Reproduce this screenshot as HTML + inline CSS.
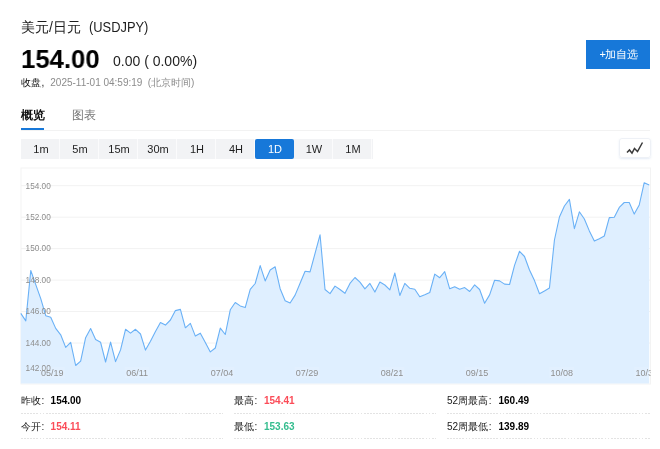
<!DOCTYPE html>
<html><head><meta charset="utf-8">
<style>
*{margin:0;padding:0;box-sizing:border-box}
html,body{width:660px;height:449px;background:#fff;overflow:hidden;-webkit-font-smoothing:antialiased;font-family:"Liberation Sans",sans-serif;color:#333}
.a{position:absolute;white-space:nowrap;will-change:transform}
#title{left:21px;top:18px;font-size:14px;color:#1e1e1e;line-height:18px}
#title .code{font-size:14px;margin-left:8px;display:inline-block;transform:scaleX(0.92);transform-origin:0 50%}
#price{left:21px;top:44px;font-size:26.4px;transform:scaleX(0.975);transform-origin:0 0;font-weight:bold;color:#000;line-height:30px}
#chg{left:113px;top:53px;font-size:14px;color:#1e1e1e;line-height:16px}
#time{left:21px;top:75.5px;font-size:10px;color:#111;line-height:13px}
#time span{color:#8c8c8c}
#btn{left:586px;top:40px;width:64px;height:29px;background:#1778d9;color:#fff;font-size:11px;line-height:29px;text-align:center;letter-spacing:-0.3px;padding-left:1px}
#tab1{left:21px;top:107px;font-size:11.5px;font-weight:bold;color:#111;line-height:16px}
#tab2{left:72px;top:107px;font-size:11.5px;color:#777;line-height:16px}
#uline{left:21px;top:128px;width:23px;height:2px;background:#1778d9}
#sep{left:21px;top:130px;width:629px;height:1px;background:#f2f2f2}
#bar{left:21px;top:139px;width:352px;height:20px;background:#f2f3f5;display:flex}
#bar div{position:relative;width:39px;height:20px;line-height:20px;text-align:center;font-size:11px;color:#1e1e1e;padding-left:1px}
#bar div:after{content:"";position:absolute;right:0;top:0;width:1px;height:20px;background:#fbfbfc}
#bar div.on:after{display:none}
#bar div.on{background:#1778d9;color:#fff;border-radius:2px}
#ico{left:619px;top:138px;width:32px;height:20px;border:1px solid #eef1f6;border-radius:3px;box-shadow:0 1px 2px rgba(180,200,230,0.35)}
#chart{left:21px;top:168px;width:630px;height:216px;border:1px solid #f3f3f3;border-bottom:none}
.row{position:absolute;will-change:transform;height:26px;background:repeating-linear-gradient(90deg,#e3e3e3 0 1.8px,transparent 1.8px 3.09px) left bottom/100% 1px no-repeat}
.k{position:absolute;left:0;top:7px;font-size:10px;line-height:12px;color:#1a1a1a}
.k i{font-style:normal;margin-left:0.6px}
.v{position:absolute;top:7px;font-size:10px;line-height:12px;font-weight:bold;color:#000}
.red{color:#fb4c58}
.grn{color:#35bd8f}
</style></head><body>
<div id="title" class="a">美元/日元<span class="code">(USDJPY)</span></div>
<div id="price" class="a">154.00</div>
<div id="chg" class="a">0.00 ( 0.00%)</div>
<div id="time" class="a">收盘<b style="font-weight:normal;margin-left:0.5px">,</b><span style="margin-left:6px">2025-11-01 04:59:19 <i style="font-style:normal;margin-left:2.5px">(北京时间)</i></span></div>
<div id="btn" class="a">+加自选</div>
<div id="tab1" class="a">概览</div>
<div id="tab2" class="a">图表</div>
<div id="uline" class="a"></div>
<div id="sep" class="a"></div>
<div id="bar" class="a"><div>1m</div><div>5m</div><div>15m</div><div>30m</div><div>1H</div><div>4H</div><div class="on">1D</div><div>1W</div><div>1M</div></div>
<div id="ico" class="a"><svg width="31" height="20" style="position:absolute;left:-1px;top:-1px"><polyline points="8,14.5 10.5,12 13,15.2 15.5,10.5 18.5,13.5 23.5,4.5" fill="none" stroke="#3a3a3a" stroke-width="1.5"/></svg></div>
<svg class="a" style="left:0;top:0" width="660" height="449">
<rect x="21" y="168" width="629.5" height="216" fill="none" stroke="#f3f3f3" stroke-width="1"/>
<line x1="21" x2="650" y1="185.7" y2="185.7" stroke="#f2f2f2" stroke-width="1"/><line x1="21" x2="650" y1="217.2" y2="217.2" stroke="#f2f2f2" stroke-width="1"/><line x1="21" x2="650" y1="248.6" y2="248.6" stroke="#f2f2f2" stroke-width="1"/><line x1="21" x2="650" y1="280.1" y2="280.1" stroke="#f2f2f2" stroke-width="1"/><line x1="21" x2="650" y1="311.5" y2="311.5" stroke="#f2f2f2" stroke-width="1"/><line x1="21" x2="650" y1="343.0" y2="343.0" stroke="#f2f2f2" stroke-width="1"/><line x1="21" x2="650" y1="374.5" y2="374.5" stroke="#f2f2f2" stroke-width="1"/>
<path d="M20.80,383.5 L20.80,313.40 L25.79,320.90 L30.77,270.50 L35.76,284.60 L40.75,298.60 L45.74,315.70 L50.72,317.20 L55.71,328.40 L60.70,334.80 L65.69,347.40 L70.67,342.40 L75.66,365.50 L80.65,361.10 L85.63,337.70 L90.62,328.60 L95.61,339.50 L100.60,342.30 L105.58,362.00 L110.57,342.10 L115.56,361.60 L120.55,349.90 L125.53,329.30 L130.52,333.10 L135.51,329.30 L140.50,334.00 L145.48,350.10 L150.47,341.20 L155.46,331.60 L160.44,322.60 L165.43,325.10 L170.42,320.00 L175.41,310.60 L180.39,309.40 L185.38,327.80 L190.37,323.40 L195.36,336.10 L200.34,333.20 L205.33,342.50 L210.32,351.90 L215.30,348.00 L220.29,328.10 L225.28,334.50 L230.27,309.80 L235.25,302.50 L240.24,305.90 L245.23,307.60 L250.22,289.30 L255.20,283.50 L260.19,265.60 L265.18,280.90 L270.17,270.00 L275.15,266.80 L280.14,288.70 L285.13,300.70 L290.11,303.00 L295.10,295.10 L300.09,283.20 L305.08,271.30 L310.06,271.90 L315.05,253.30 L320.04,234.80 L325.03,289.50 L330.01,293.60 L335.00,286.10 L339.99,289.50 L344.97,293.30 L349.96,283.40 L354.95,277.50 L359.94,282.10 L364.92,288.80 L369.91,283.40 L374.90,292.10 L379.89,282.10 L384.87,285.00 L389.86,289.80 L394.85,273.00 L399.83,295.50 L404.82,283.40 L409.81,288.30 L414.80,289.20 L419.78,296.80 L424.77,294.80 L429.76,292.50 L434.75,274.10 L439.73,277.70 L444.72,271.70 L449.71,288.80 L454.70,286.80 L459.68,289.20 L464.67,287.60 L469.66,291.50 L474.64,284.90 L479.63,289.50 L484.62,303.20 L489.61,294.90 L494.59,280.20 L499.58,280.90 L504.57,284.10 L509.56,284.50 L514.54,265.40 L519.53,251.30 L524.52,256.50 L529.50,270.00 L534.49,280.60 L539.48,293.80 L544.47,290.90 L549.45,288.00 L554.44,240.00 L559.43,217.00 L564.42,206.00 L569.40,199.40 L574.39,228.70 L579.38,211.80 L584.37,219.00 L589.35,230.90 L594.34,241.10 L599.33,238.70 L604.31,236.00 L609.30,217.60 L614.29,217.20 L619.28,207.40 L624.26,202.50 L629.25,202.50 L634.24,214.10 L639.23,205.00 L644.21,182.70 L649.20,185.00 L649.20,383.5 Z" fill="#dfefff"/>
<polyline points="20.80,313.40 25.79,320.90 30.77,270.50 35.76,284.60 40.75,298.60 45.74,315.70 50.72,317.20 55.71,328.40 60.70,334.80 65.69,347.40 70.67,342.40 75.66,365.50 80.65,361.10 85.63,337.70 90.62,328.60 95.61,339.50 100.60,342.30 105.58,362.00 110.57,342.10 115.56,361.60 120.55,349.90 125.53,329.30 130.52,333.10 135.51,329.30 140.50,334.00 145.48,350.10 150.47,341.20 155.46,331.60 160.44,322.60 165.43,325.10 170.42,320.00 175.41,310.60 180.39,309.40 185.38,327.80 190.37,323.40 195.36,336.10 200.34,333.20 205.33,342.50 210.32,351.90 215.30,348.00 220.29,328.10 225.28,334.50 230.27,309.80 235.25,302.50 240.24,305.90 245.23,307.60 250.22,289.30 255.20,283.50 260.19,265.60 265.18,280.90 270.17,270.00 275.15,266.80 280.14,288.70 285.13,300.70 290.11,303.00 295.10,295.10 300.09,283.20 305.08,271.30 310.06,271.90 315.05,253.30 320.04,234.80 325.03,289.50 330.01,293.60 335.00,286.10 339.99,289.50 344.97,293.30 349.96,283.40 354.95,277.50 359.94,282.10 364.92,288.80 369.91,283.40 374.90,292.10 379.89,282.10 384.87,285.00 389.86,289.80 394.85,273.00 399.83,295.50 404.82,283.40 409.81,288.30 414.80,289.20 419.78,296.80 424.77,294.80 429.76,292.50 434.75,274.10 439.73,277.70 444.72,271.70 449.71,288.80 454.70,286.80 459.68,289.20 464.67,287.60 469.66,291.50 474.64,284.90 479.63,289.50 484.62,303.20 489.61,294.90 494.59,280.20 499.58,280.90 504.57,284.10 509.56,284.50 514.54,265.40 519.53,251.30 524.52,256.50 529.50,270.00 534.49,280.60 539.48,293.80 544.47,290.90 549.45,288.00 554.44,240.00 559.43,217.00 564.42,206.00 569.40,199.40 574.39,228.70 579.38,211.80 584.37,219.00 589.35,230.90 594.34,241.10 599.33,238.70 604.31,236.00 609.30,217.60 614.29,217.20 619.28,207.40 624.26,202.50 629.25,202.50 634.24,214.10 639.23,205.00 644.21,182.70 649.20,185.00" fill="none" stroke="#6ab1f6" stroke-width="1.1" stroke-linejoin="round"/>
<g font-family="Liberation Sans" font-size="9.9" fill="#8e8e8e"><text x="25.6" y="188.5" textLength="25.2" lengthAdjust="spacingAndGlyphs">154.00</text><text x="25.6" y="220.0" textLength="25.2" lengthAdjust="spacingAndGlyphs">152.00</text><text x="25.6" y="251.4" textLength="25.2" lengthAdjust="spacingAndGlyphs">150.00</text><text x="25.6" y="282.9" textLength="25.2" lengthAdjust="spacingAndGlyphs">148.00</text><text x="25.6" y="314.3" textLength="25.2" lengthAdjust="spacingAndGlyphs">146.00</text><text x="25.6" y="345.8" textLength="25.2" lengthAdjust="spacingAndGlyphs">144.00</text><text x="25.6" y="370.7" textLength="25.2" lengthAdjust="spacingAndGlyphs">142.00</text></g>
<defs><clipPath id="cp"><rect x="0" y="0" width="650.6" height="449"/></clipPath></defs><g font-family="Liberation Sans" font-size="9" fill="#8e8e8e" clip-path="url(#cp)"><rect x="39.7" y="367" width="25" height="11" fill="#fff" fill-opacity="0.1"/><text x="52.2" y="376.1" text-anchor="middle">05/19</text><rect x="124.6" y="367" width="25" height="11" fill="#fff" fill-opacity="0.1"/><text x="137.1" y="376.1" text-anchor="middle">06/11</text><rect x="209.6" y="367" width="25" height="11" fill="#fff" fill-opacity="0.1"/><text x="222.1" y="376.1" text-anchor="middle">07/04</text><rect x="294.5" y="367" width="25" height="11" fill="#fff" fill-opacity="0.1"/><text x="307.0" y="376.1" text-anchor="middle">07/29</text><rect x="379.4" y="367" width="25" height="11" fill="#fff" fill-opacity="0.1"/><text x="391.9" y="376.1" text-anchor="middle">08/21</text><rect x="464.4" y="367" width="25" height="11" fill="#fff" fill-opacity="0.1"/><text x="476.9" y="376.1" text-anchor="middle">09/15</text><rect x="549.3" y="367" width="25" height="11" fill="#fff" fill-opacity="0.1"/><text x="561.8" y="376.1" text-anchor="middle">10/08</text><rect x="634.2" y="367" width="25" height="11" fill="#fff" fill-opacity="0.1"/><text x="646.7" y="376.1" text-anchor="middle">10/31</text></g>
</svg>
<div class="row" style="left:21px;top:388px;width:202px"><span class="k">昨收<i>:</i></span><span class="v " style="left:29.6px">154.00</span></div>
<div class="row" style="left:21px;top:413px;width:202px"><span class="k" style="top:8px">今开<i>:</i></span><span class="v red" style="top:8px;left:29.6px">154.11</span></div>
<div class="row" style="left:234px;top:388px;width:202px"><span class="k">最高<i>:</i></span><span class="v red" style="left:30.0px">154.41</span></div>
<div class="row" style="left:234px;top:413px;width:202px"><span class="k" style="top:8px">最低<i>:</i></span><span class="v grn" style="top:8px;left:30.0px">153.63</span></div>
<div class="row" style="left:447px;top:388px;width:203px"><span class="k">52周最高<i>:</i></span><span class="v " style="left:51.5px">160.49</span></div>
<div class="row" style="left:447px;top:413px;width:203px"><span class="k" style="top:8px">52周最低<i>:</i></span><span class="v " style="top:8px;left:51.5px">139.89</span></div>
</body></html>
